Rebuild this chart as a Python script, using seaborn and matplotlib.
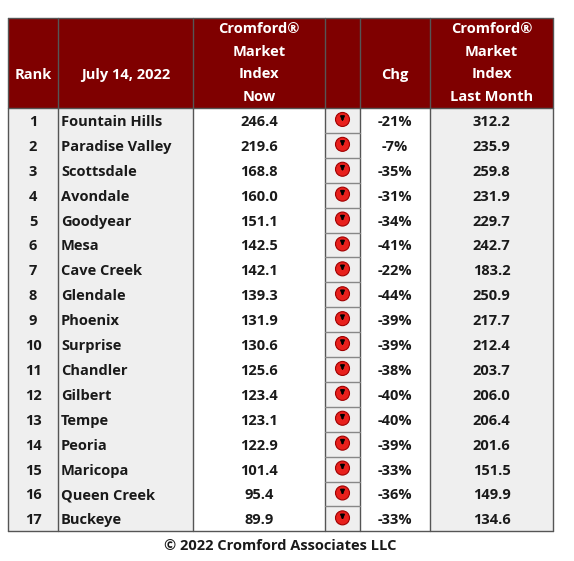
import matplotlib
matplotlib.use("Agg")
import matplotlib.pyplot as plt
from matplotlib.patches import Rectangle, Circle
import seaborn as sns

sns.set_style("white")
plt.rcParams['font.family'] = ['Open Sans', 'DejaVu Sans']

ranks = list(range(1, 18))
cities = ["Fountain Hills", "Paradise Valley", "Scottsdale", "Avondale", "Goodyear", "Mesa",
          "Cave Creek", "Glendale", "Phoenix", "Surprise", "Chandler", "Gilbert", "Tempe",
          "Peoria", "Maricopa", "Queen Creek", "Buckeye"]
index_now = [246.4, 219.6, 168.8, 160.0, 151.1, 142.5, 142.1, 139.3, 131.9, 130.6, 125.6,
             123.4, 123.1, 122.9, 101.4, 95.4, 89.9]
change = [-21, -7, -35, -31, -34, -41, -22, -44, -39, -39, -38, -40, -40, -39, -33, -36, -33]
index_last = [312.2, 235.9, 259.8, 231.9, 229.7, 242.7, 183.2, 250.9, 217.7, 212.4, 203.7,
              206.0, 206.4, 201.6, 151.5, 149.9, 134.6]
headers = ["Rank", "July 14, 2022", "Cromford®\nMarket\nIndex\nNow", "", "Chg",
           "Cromford®\nMarket\nIndex\nLast Month"]
footer = "© 2022 Cromford Associates LLC"

W, H = 574, 561
fig = plt.figure(figsize=(W / 100, H / 100), dpi=100)
ax = fig.add_axes([0, 0, 1, 1])
ax.set_xlim(0, W)
ax.set_ylim(H, 0)
ax.axis("off")

cols = [8, 58, 193, 325, 360, 430, 553]
top, hb = 18, 108
rh = 24.9
n = len(cities)
bottom = hb + rh * n
maroon = "#7f0000"
grid = "#555555"

ax.add_patch(Rectangle((cols[0], top), cols[-1] - cols[0], hb - top, color=maroon, lw=0))
bg = ["#efefef", "#efefef", "white", "#efefef", "white", "#efefef"]
for c in range(6):
    ax.add_patch(Rectangle((cols[c], hb), cols[c + 1] - cols[c], bottom - hb, color=bg[c], lw=0))

for x in cols:
    ax.plot([x, x], [top, bottom], color=grid, lw=1)
ax.plot([cols[0], cols[-1]], [top, top], color=grid, lw=1)
ax.plot([cols[0], cols[-1]], [hb, hb], color=grid, lw=1)
ax.plot([cols[0], cols[-1]], [bottom, bottom], color=grid, lw=1)
for i in range(1, n):
    y = hb + rh * i
    ax.plot([cols[3], cols[4]], [y, y], color="#888888", lw=1)

hdr_lines_y = [29, 51.5, 74, 96.5]
for c, h in enumerate(headers):
    if not h:
        continue
    xc = (cols[c] + cols[c + 1]) / 2
    if c in (0, 1, 4):
        ax.text(xc, 75, h, ha="center", va="center", color="white", fontsize=10.5, fontweight="bold")
    else:
        for k, line in enumerate(h.split("\n")):
            ax.text(xc, hdr_lines_y[k], line, ha="center", va="center", color="white",
                    fontsize=10.5, fontweight="bold")

for i in range(n):
    y = hb + rh * (i + 0.5) + 1.5
    kw = dict(va="center", fontsize=10.5, fontweight="bold", color="#1a1a1a")
    ax.text((cols[0] + cols[1]) / 2, y, str(ranks[i]), ha="center", **kw)
    ax.text(cols[1] + 3, y, cities[i], ha="left", **kw)
    ax.text((cols[2] + cols[3]) / 2, y, f"{index_now[i]:.1f}", ha="center", **kw)
    ax.text((cols[4] + cols[5]) / 2, y, f"{change[i]}%", ha="center", **kw)
    ax.text((cols[5] + cols[6]) / 2, y, f"{index_last[i]:.1f}", ha="center", **kw)
    xc = (cols[3] + cols[4]) / 2
    yc = y - 2.5
    ax.add_patch(Circle((xc, yc), 7, facecolor="#e8201c", edgecolor="#a00000", lw=0.8))
    ax.annotate("", xy=(xc, yc + 4.5), xytext=(xc, yc - 4),
                arrowprops=dict(arrowstyle="-|>", color="black", lw=1.2, mutation_scale=6))

ax.text((cols[0] + cols[-1]) / 2, 546, footer, ha="center", va="center",
        fontsize=10.5, fontweight="bold", color="#1a1a1a")

fig.savefig("out.png", dpi=100)
